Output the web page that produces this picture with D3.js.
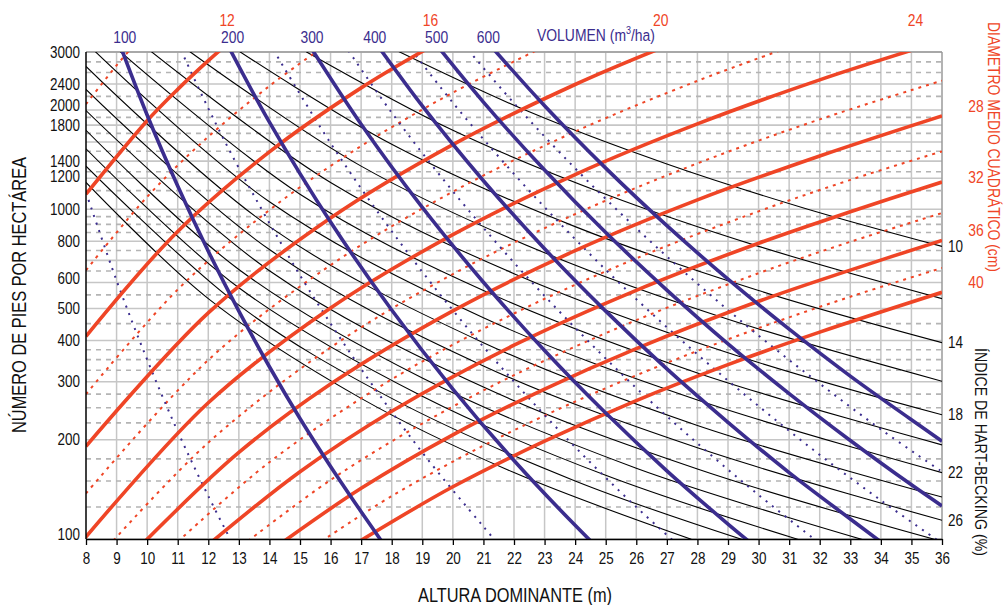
<!DOCTYPE html>
<html><head><meta charset="utf-8">
<script src="https://cdn.jsdelivr.net/npm/d3@7"></script>
<style>
body{margin:0;background:#fff}
svg{display:block}
text{font-family:"Liberation Sans",Arial,sans-serif}
</style>
</head><body>
<svg id="chart" width="1005" height="605"></svg>
<script>
// ---------------- DATA ----------------
const heightTicks = [8,9,10,11,12,13,14,15,16,17,18,19,20,21,22,23,24,25,26,27,28,29,30,31,32,33,34,35,36];
const densityTicks = [100,200,300,400,500,600,800,1000,1200,1400,1800,2000,2400,3000];
const densityGridSolid = [100,200,300,400,500,600,700,800,1000,1200,1400,1600,1800,2000,2400,3000];
const densityGridDashed = [125,150,175,225,250,275,325,350,375,450,550,650,750,850,900,950,1100,1300,1500,1700,1900,2200,2600,2800];

// Hart-Becking index lines: [dominant height (m), trees/ha]
const hartBeckingIndex = [10,12,14,16,18,20,22,24,26,28,30,32,34,36];
const hartBeckingLines = [
  [[18.2,3019],[22.5,1975],[27,1372],[31.5,1008],[36,772]],
  [[15.2,3006],[20,1736],[25,1111],[30,772],[36,536]],
  [[13,3019],[18,1575],[24,886],[30,567],[36,394]],
  [[11.4,3006],[17,1352],[23,738],[29,464],[36,301]],
  [[10.1,3026],[16,1206],[22,638],[29,367],[36,238]],
  [[9.1,3019],[15,1111],[21,567],[28,319],[36,193]],
  [[8.2,3073],[14,1054],[21,469],[28,264],[36,159]],
  [[8,2713],[14,886],[21,394],[28,221],[36,134]],
  [[8,2311],[14,755],[21,335],[28,189],[36,114]],
  [[8,1993],[14,651],[21,289],[28,163],[35.8,99.5]],
  [[8,1736],[13,657],[19,308],[26,164],[33.4,99.6]],
  [[8,1526],[13,578],[19,271],[25,156],[31.3,99.7]],
  [[8,1352],[13,512],[18,267],[24,150],[29.5,99.4]],
  [[8,1206],[12,536],[17,267],[22,159],[27.8,99.8]]
];
const hartBeckingLabels = [10,14,18,22,26];

// Quadratic mean diameter lines (cm)
const diameterValues = [10,12,14,16,18,20,22,24,26,28,30,32,34,36,38,40];
const diameterLines = [
  [[8,2084],[9,2733],[9.4,3020]],
  [[8,1111],[10,1856],[11,2311],[12,2824],[12.5,3102]],
  [[8,653],[10,1091],[12,1660],[14,2366],[15.6,3035]],
  [[8,412],[11,857],[14,1493],[17,2335],[19.2,3086]],
  [[8,275],[11,571],[14,995],[17,1556],[20,2259],[22.8,3054]],
  [[8,191],[12,485],[16,941],[20,1571],[24,2391],[26.7,3054]],
  [[8,137.5],[12,349],[16,677],[20,1131],[24,1721],[28,2452],[30.7,3030]],
  [[7.9,99],[12,259],[16,502],[20,838],[24,1275],[28,1816],[32,2469],[35,3034]],
  [[8.9,99],[12,196],[16,381],[20,636],[24,967],[28,1378],[32,1874],[36,2456]],
  [[9.9,97.7],[13,183],[16,295],[20,492],[24,749],[28,1068],[32,1451],[36,1920]],
  [[11,98.1],[14,171],[18,305],[22,483],[26,710],[30,986],[33,1228],[36,1499]],
  [[12.1,97.8],[15,160],[18,244],[22,387],[26,568],[30,789],[33,983],[36,1210]],
  [[13.3,98.6],[16,151],[19,224],[22,314],[26,461],[30,640],[33,797],[36,974]],
  [[14.5,98.8],[17,142.5],[20,207],[23,285],[26,378],[30,526],[33,654],[36,805]],
  [[15.7,98.4],[18,135],[21,192],[24,261],[27,342],[30,436],[33,543],[36,664]],
  [[17,99.1],[20,144],[23,198],[26,263],[29,338],[32,424],[36,560]]
];
const diameterTopLabels = [12,16,20,24];
const diameterRightLabels = [28,32,36,40];

// Volume lines (m3/ha)
const volumeValues = [50,100,150,200,250,300,350,400,450,500,550,600];
const volumeLines = [
  [[8,1125],[9,608],[10,350],[11,212],[12,135],[13,89]],
  [[9,3356],[10,1932],[11,1176],[12,746],[13,491],[14,333],[15,232],[16,166],[17,121],[18,89]],
  [[11,3194],[12,2024],[13,1334],[15,631],[17,328],[19,183],[21,109],[22,85]],
  [[12.5,3329],[14,1838],[16,915],[18,495],[20,285],[22,173],[24,110],[25,89]],
  [[14,3190],[16,1587],[18,858],[20,494],[22,300],[24,190],[26,125],[27.5,93.5]],
  [[15,3486],[17,1811],[19,1013],[21,601],[23,373],[25,241],[27,161],[29,111],[30,93]],
  [[16,3639],[18,1964],[20,1134],[22,689],[24,437],[26,287],[28,195],[30,136],[32,97]],
  [[17,3686],[19,2059],[21,1221],[23,759],[25,491],[27,328],[29,226],[31,159],[33,115],[34,98]],
  [[18,3654],[20,2105],[22,1280],[24,812],[26,534],[28,363],[30,253],[32,180],[34,131],[36,97]],
  [[19,3573],[21,2115],[23,1315],[25,850],[27,569],[29,391],[31,276],[33,199],[35,146],[36,126]],
  [[20,3456],[22,2098],[24,1331],[26,876],[28,595],[30,414],[32,296],[34,215],[36,160]],
  [[21,3318],[23,2061],[25,1333],[27,892],[29,614],[31,433],[33,312],[35,230],[36,198]]
];
const volumeLabels = [100,200,300,400,500,600];

// ---------------- DRAWING ----------------
const RED = "#ef4526", PURPLE = "#3b2d8e", GRID = "#c6c6c6", GRIDD = "#b4b4b4";
const svg = d3.select("#chart");
const L = 86, R = 942, T = 52, B = 539;
const x = d3.scaleLinear().domain([8,36]).range([L,R]);
const y = d3.scaleLog().domain([100,3000]).range([B,T]);

function condense(sel, f){
  sel.each(function(){
    const w = this.getComputedTextLength();
    d3.select(this).attr("textLength", w*f).attr("lengthAdjust","spacingAndGlyphs");
  });
}
function fitText(sel, width){
  sel.attr("textLength", width).attr("lengthAdjust","spacingAndGlyphs");
}

svg.append("defs").append("clipPath").attr("id","plot")
  .append("rect").attr("x",L).attr("y",T).attr("width",R-L).attr("height",B-T);

// the reference draws a few grid rows slightly off their log position
const gridNudge = {1100:-5,1200:-5};
const gy = d => y(d) + (gridNudge[d]||0);
const grid = svg.append("g");
grid.selectAll(".vg").data(heightTicks.slice(1,-1)).join("line")
  .attr("x1",d=>x(d)).attr("x2",d=>x(d)).attr("y1",T).attr("y2",B)
  .attr("stroke",GRID).attr("stroke-width",1.5);
grid.selectAll(".hd").data(densityGridDashed).join("line")
  .attr("x1",L).attr("x2",R).attr("y1",gy).attr("y2",gy)
  .attr("stroke",GRIDD).attr("stroke-width",1.6).attr("stroke-dasharray","5,5");
grid.selectAll(".hs").data(densityGridSolid).join("line")
  .attr("x1",L).attr("x2",R).attr("y1",gy).attr("y2",gy)
  .attr("stroke",GRID).attr("stroke-width",1.6);
svg.append("line").attr("x1",L).attr("x2",R).attr("y1",T).attr("y2",T).attr("stroke","#9a9a9a").attr("stroke-width",1.5);
svg.append("line").attr("x1",R).attr("x2",R).attr("y1",T).attr("y2",B).attr("stroke","#9a9a9a").attr("stroke-width",1.5);

const line = d3.line().x(d=>x(d[0])).y(d=>y(d[1])).curve(d3.curveCatmullRom.alpha(0.5));
const plot = svg.append("g").attr("clip-path","url(#plot)");

plot.selectAll(".hb").data(hartBeckingLines).join("path")
  .attr("d",line).attr("fill","none").attr("stroke","#000").attr("stroke-width",1.1);
plot.selectAll(".dgd").data(diameterLines.filter((l,i)=>diameterValues[i]%4!==0)).join("path")
  .attr("d",line).attr("fill","none").attr("stroke",RED).attr("stroke-width",2)
  .attr("stroke-dasharray","3,5");
plot.selectAll(".vd").data(volumeLines.filter((l,i)=>volumeValues[i]%100!==0)).join("path")
  .attr("d",line).attr("fill","none").attr("stroke",PURPLE).attr("stroke-width",2)
  .attr("stroke-dasharray","2,6");
plot.selectAll(".dgs").data(diameterLines.filter((l,i)=>diameterValues[i]%4===0)).join("path")
  .attr("d",line).attr("fill","none").attr("stroke",RED).attr("stroke-width",3.6);
plot.selectAll(".vs").data(volumeLines.filter((l,i)=>volumeValues[i]%100===0)).join("path")
  .attr("d",line).attr("fill","none").attr("stroke",PURPLE).attr("stroke-width",3.6);

// axes
const xAxis = svg.append("g").attr("transform",`translate(0,${B})`)
  .call(d3.axisBottom(x).tickValues(heightTicks).tickSize(6).tickSizeOuter(0).tickFormat(d3.format("d")));
xAxis.select(".domain").attr("stroke","#000").attr("stroke-width",1.5);
xAxis.selectAll(".tick line").attr("stroke","#000").attr("stroke-width",1.3);
xAxis.selectAll("text").attr("font-size",16).attr("y",20).attr("dy","0.32em").attr("fill","#111")
  .style("font-family",'"Liberation Sans",Arial,sans-serif').call(condense,0.84);

svg.append("line").attr("x1",L).attr("x2",L).attr("y1",T).attr("y2",B).attr("stroke","#000").attr("stroke-width",1.5);
const yNudge = {100:-5,600:-4,1200:-7,2000:-5};
svg.append("g").selectAll("text").data(densityTicks).join("text")
  .attr("x",80).attr("y",d=>y(d)+(yNudge[d]||0)+5.6)
  .attr("text-anchor","end").attr("font-size",16).attr("fill","#111").text(d=>d)
  .call(condense,0.84);

// Axis titles
svg.append("text").attr("x",515).attr("y",602).attr("text-anchor","middle")
  .attr("font-size",20).attr("fill","#111").text("ALTURA DOMINANTE (m)").call(fitText,194);
svg.append("text").attr("transform","translate(26,295) rotate(-90)").attr("text-anchor","middle")
  .attr("font-size",20).attr("fill","#111").text("NÚMERO DE PIES POR HECTÁREA").call(fitText,276);
svg.append("text").attr("transform","translate(988,147) rotate(90)").attr("text-anchor","middle")
  .attr("font-size",17).attr("fill",RED).text("DIAMETRO MEDIO CUADRÁTICO (cm)").call(fitText,250);
svg.append("text").attr("transform","translate(975,452) rotate(90)").attr("text-anchor","middle")
  .attr("font-size",17).attr("fill","#111").text("ÍNDICE DE HART-BECKING (%)").call(fitText,208);

function topX(pts){
  for(let i=1;i<pts.length;i++){
    const a=pts[i-1], b=pts[i];
    const ya=y(a[1]), yb=y(b[1]);
    if((ya-T)*(yb-T)<=0){ const t=(T-ya)/(yb-ya); return x(a[0])+t*(x(b[0])-x(a[0])); }
  }
  return x(pts[0][0]);
}
function rightY(pts){ const p=pts[pts.length-1]; return y(p[1]); }

svg.append("g").selectAll("text").data(hartBeckingLabels).join("text")
  .attr("x",948).attr("y",d=>rightY(hartBeckingLines[hartBeckingIndex.indexOf(d)])+5.6)
  .attr("font-size",16).attr("fill","#111").text(d=>d).call(condense,0.84);

svg.append("g").selectAll("text").data(diameterTopLabels).join("text")
  .attr("x",d=>topX(diameterLines[diameterValues.indexOf(d)])+9).attr("y",26)
  .attr("text-anchor","middle").attr("font-size",16.5).attr("fill",RED).text(d=>d).call(condense,0.84);
const dgRightNudge = {28:-10,32:-5,36:-10,40:-10};
svg.append("g").selectAll("text").data(diameterRightLabels).join("text")
  .attr("x",976).attr("y",d=>rightY(diameterLines[diameterValues.indexOf(d)])+dgRightNudge[d]+5.8)
  .attr("text-anchor","middle").attr("font-size",16.5).attr("fill",RED).text(d=>d).call(condense,0.84);

const vNudge = [2,1,-2,-8,-6,-8];
svg.append("g").selectAll("text").data(volumeLabels).join("text")
  .attr("x",(d,i)=>topX(volumeLines[volumeValues.indexOf(d)])+vNudge[i]).attr("y",43)
  .attr("text-anchor","middle").attr("font-size",16.5).attr("fill",PURPLE).text(d=>d).call(condense,0.84);
const vg = svg.append("g").attr("transform","translate(537,41) scale(0.82,1)");
const vt = vg.append("text").attr("x",0).attr("y",0).attr("font-size",17).attr("fill",PURPLE);
vt.append("tspan").text("VOLUMEN (m");
vt.append("tspan").attr("dy",-7).attr("font-size",11).text("3");
vt.append("tspan").attr("dy",7).text("/ha)");
</script>
</body></html>
